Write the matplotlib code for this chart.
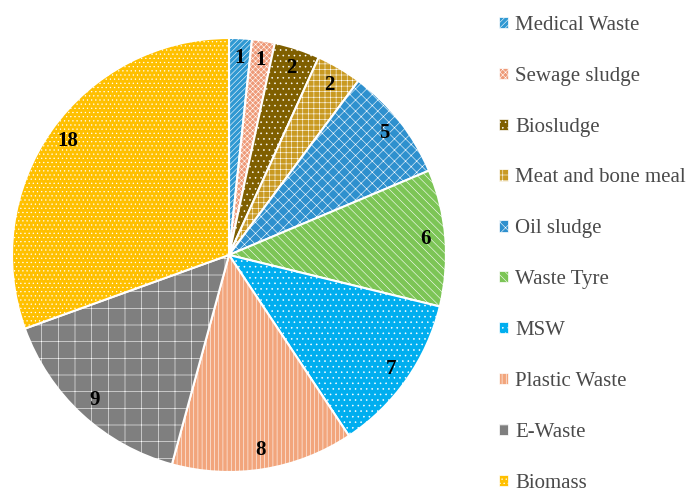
import matplotlib
matplotlib.use("Agg")
import matplotlib.pyplot as plt
from matplotlib.patches import Patch

plt.rcParams['font.family'] = ['Liberation Serif', 'DejaVu Serif']
plt.rcParams['hatch.linewidth'] = 0.4

categories = ['Medical Waste', 'Sewage sludge', 'Biosludge', 'Meat and bone meal',
              'Oil sludge', 'Waste Tyre', 'MSW', 'Plastic Waste', 'E-Waste', 'Biomass']
counts = [1, 1, 2, 2, 5, 6, 7, 8, 9, 18]
colors = ['#2F98D2', '#EE9A78', '#7F5F00', '#C99A22', '#2E90CE',
          '#7CC556', '#00AEEF', '#F2A57C', '#7F7F7F', '#FFC000']
hatches = ['//////', 'xxxxxx', '...', '+++', 'xxx', '\\\\\\\\', '...', '||||', '+', '....']

fig = plt.figure(figsize=(6.86, 5.01), dpi=100)
ax = fig.add_axes([12 / 686, 29 / 501, 434 / 686, 434 / 501])

total = sum(counts)
wedges, texts, autotexts = ax.pie(
    counts, colors=colors, startangle=90, counterclock=False,
    autopct=lambda p: f'{round(p * total / 100):d}', pctdistance=0.91,
    wedgeprops=dict(edgecolor='white', linewidth=1.5),
    textprops=dict(fontsize=15, fontweight='bold', color='black'))
for w, h in zip(wedges, hatches):
    w.set_hatch(h)
ax.set_xlim(-1.0, 1.0)
ax.set_ylim(-1.0, 1.0)
ax.set_aspect('equal')

handles = [Patch(facecolor=c, edgecolor='white', hatch=h, linewidth=0.5)
           for c, h in zip(colors, hatches)]
fig.legend(handles, categories, loc='upper left', bbox_to_anchor=(0.715, 0.985),
           frameon=False, fontsize=15, labelcolor='#4a4a4a',
           handlelength=0.45, handleheight=0.45, handletextpad=0.35,
           labelspacing=1.53, borderaxespad=0)

fig.savefig('out.png', dpi=100)
